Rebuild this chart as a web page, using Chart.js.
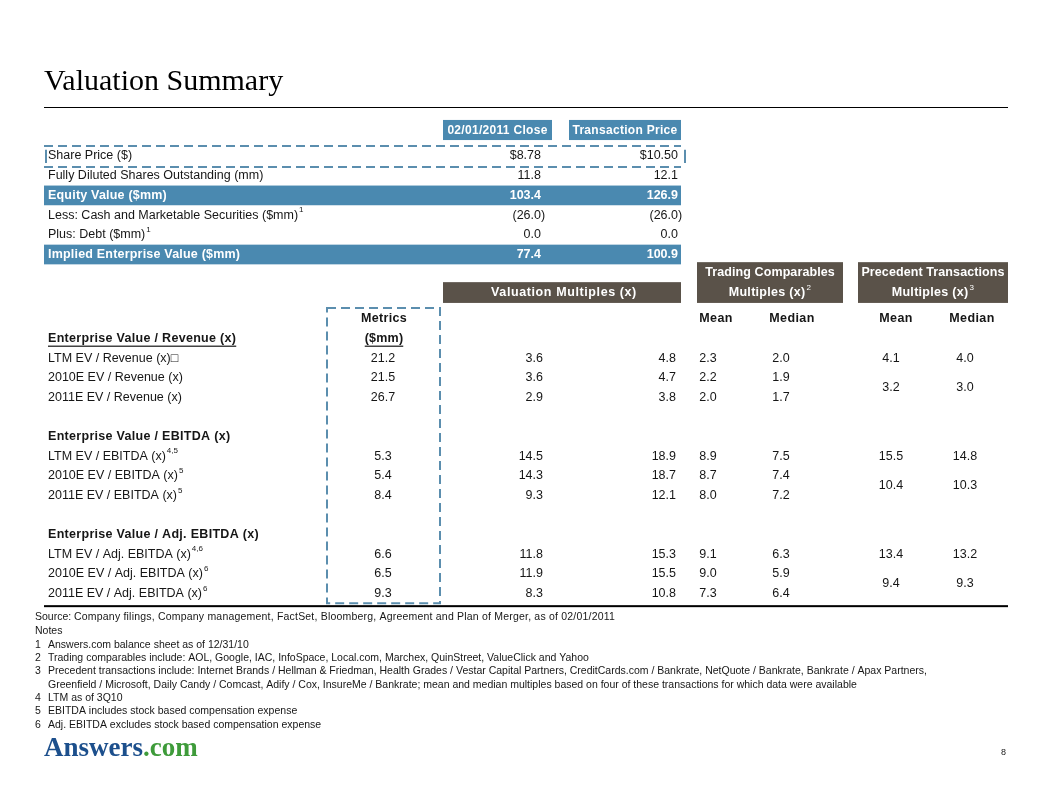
<!DOCTYPE html>
<html>
<head>
<meta charset="utf-8">
<script src="https://cdn.jsdelivr.net/npm/chart.js@4.4.1/dist/chart.umd.min.js"></script>
<style>
  html, body { margin: 0; padding: 0; background: #fff; }
  canvas { display: block; }
</style>
</head>
<body>
<canvas id="summaryChart" width="1056" height="792"></canvas>
<script>
// TOP TABLE
const priceColumns = ["02/01/2011 Close", "Transaction Price"];
const summaryLabels = [
    "Share Price ($)",
    "Fully Diluted Shares Outstanding (mm)",
    "Equity Value ($mm)",
    "Less: Cash and Marketable Securities ($mm)",
    "Plus: Debt ($mm)",
    "Implied Enterprise Value ($mm)"
];
const summaryNotes = ["", "", "", "1", "1", ""];
const closeValues = [8.78, 11.8, 103.4, -26.0, 0.0, 77.4];
const dealValues = [10.50, 12.1, 126.9, -26.0, 0.0, 100.9];

// MULTIPLES TABLE
const groupHeaders = ["Valuation Multiples (x)", "Trading Comparables", "Precedent Transactions"];
const statLabels = ["Mean", "Median"];
const sectionTitles = [
    "Enterprise Value / Revenue (x)",
    "Enterprise Value / EBITDA (x)",
    "Enterprise Value / Adj. EBITDA (x)"
];
const metricLabels = [
    "LTM EV / Revenue (x)\u25A1",
    "2010E EV / Revenue (x)",
    "2011E EV / Revenue (x)",
    "LTM EV / EBITDA (x)",
    "2010E EV / EBITDA (x)",
    "2011E EV / EBITDA (x)",
    "LTM EV / Adj. EBITDA (x)",
    "2010E EV / Adj. EBITDA (x)",
    "2011E EV / Adj. EBITDA (x)"
];
const metricNotes = ["", "", "", "4,5", "5", "5", "4,6", "6", "6"];
const metricValues = [21.2, 21.5, 26.7, 5.3, 5.4, 8.4, 6.6, 6.5, 9.3];
const multCloseValues = [3.6, 3.6, 2.9, 14.5, 14.3, 9.3, 11.8, 11.9, 8.3];
const multDealValues = [4.8, 4.7, 3.8, 18.9, 18.7, 12.1, 15.3, 15.5, 10.8];
const tradMeanValues = [2.3, 2.2, 2.0, 8.9, 8.7, 8.0, 9.1, 9.0, 7.3];
const tradMedianValues = [2.0, 1.9, 1.7, 7.5, 7.4, 7.2, 6.3, 5.9, 6.4];
// precedent: LTM row, then one value for 2010E/2011E together
const precMeanValues = [4.1, 3.2, 15.5, 10.4, 13.4, 9.4];
const precMedianValues = [4.0, 3.0, 14.8, 10.3, 13.2, 9.3];

// FOOTNOTES
const sourceText = "Company filings, Company management, FactSet, Bloomberg, Agreement and Plan of Merger, as of 02/01/2011";
const noteNumbers = ["1", "2", "3", "", "4", "5", "6"];
const noteTexts = [
    "Answers.com balance sheet as of 12/31/10",
    "Trading comparables include: AOL, Google, IAC, InfoSpace, Local.com, Marchex, QuinStreet, ValueClick and Yahoo",
    "Precedent transactions include: Internet Brands / Hellman & Friedman, Health Grades / Vestar Capital Partners, CreditCards.com / Bankrate, NetQuote / Bankrate, Bankrate / Apax Partners,",
    "Greenfield / Microsoft, Daily Candy / Comcast, Adify / Cox, InsureMe / Bankrate; mean and median multiples based on four of these transactions for which data were available",
    "LTM as of 3Q10",
    "EBITDA includes stock based compensation expense",
    "Adj. EBITDA excludes stock based compensation expense"
];

const BLUE = "#4a89b0";
const BROWN = "#5a5249";
const DASH = "#5b8eae";
const INK = "#161616";
const SANS = "'Liberation Sans', Arial, sans-serif";
const SERIF = "'Liberation Serif', 'Times New Roman', serif";
const HEAD = "bold 12.5px " + SANS;

// column anchors (x pixels)
const COL = {
    label: 48, close: 541, deal: 678,
    metric: 383, multClose: 543, multDeal: 676,
    tradMean: 708, tradMedian: 781, precMean: 891, precMedian: 965
};

function lowerRow(i) { return 2 + 5 * Math.floor(i / 3) + i % 3; }
function precRow(k) { const s = Math.floor(k / 2); return k % 2 === 0 ? 2 + 5 * s : 3.5 + 5 * s; }

function fmtTop(v, i) {
    if (i === 0) return "$" + v.toFixed(2);
    return v < 0 ? "(" + Math.abs(v).toFixed(1) + ")" : v.toFixed(1);
}
function fmtOne(v) { return v.toFixed(1); }

function cellSet(name, values, x, axis, rowFn, fmt, align, table) {
    return {
        label: name,
        data: values.map((v, i) => ({ x: x, y: rowFn(i) })),
        yAxisID: axis,
        pointRadius: 0,
        pointHoverRadius: 0,
        showLine: false,
        cellValues: values,
        cellFmt: fmt,
        cellAlign: align,
        cellTable: table
    };
}

function text(ctx, s, x, y, o) {
    o = o || {};
    const font = o.font || ("12.5px " + SANS);
    ctx.letterSpacing = o.spacing || "0px";
    ctx.font = font;
    ctx.fillStyle = o.color || INK;
    ctx.textBaseline = o.baseline || "middle";
    let w = ctx.measureText(s).width;
    let supW = 0;
    const supFont = o.supFont || ("8px " + SANS);
    if (o.sup) {
        ctx.font = supFont;
        supW = ctx.measureText(o.sup).width + 1;
        ctx.font = font;
    }
    let left = x;
    if (o.align === "center") left = x - (w + supW) / 2;
    else if (o.align === "right") left = x - w - supW;
    ctx.textAlign = "left";
    ctx.fillText(s, left, y);
    if (o.sup) {
        ctx.font = supFont;
        ctx.fillText(o.sup, left + w + 1, y - 5);
    }
    if (o.underline) {
        ctx.fillRect(left, y + 7, w, 1.2);
    }
    ctx.letterSpacing = "0px";
    return w;
}

const tablePlugin = {
    id: "tablePlugin",
    afterDraw(chart) {
        const ctx = chart.ctx;
        const sx = chart.scales.x;
        const yt = chart.scales.yTop;
        const yl = chart.scales.yLow;
        const px = v => sx.getPixelForValue(v);
        const pt = v => yt.getPixelForValue(v);
        const pl = v => yl.getPixelForValue(v);
        ctx.save();

        // title
        text(ctx, "Valuation Summary", 44, 90, { font: "30px " + SERIF, color: "#000", baseline: "alphabetic" });
        ctx.fillStyle = "#000";
        ctx.fillRect(44, 107, 964, 1);

        // top header boxes
        const boxes = [[443, 552], [569, 681]];
        boxes.forEach((b, i) => {
            ctx.fillStyle = BLUE;
            ctx.fillRect(px(b[0]), pt(-1.83), px(b[1]) - px(b[0]), pt(-0.81) - pt(-1.83));
            text(ctx, priceColumns[i], (px(b[0]) + px(b[1])) / 2, pt(-1.3),
                { font: "bold 12px " + SANS, color: "#fff", align: "center", spacing: "0.3px" });
        });

        // bands for totals
        [2, 5].forEach(r => {
            ctx.fillStyle = BLUE;
            ctx.fillRect(px(44), pt(r - 0.5), px(681) - px(44), pt(r + 0.5) - pt(r - 0.5));
        });

        // dashed highlight around share price row
        ctx.strokeStyle = DASH;
        ctx.lineWidth = 2;
        ctx.setLineDash([9, 5]);
        [-0.51, 0.56].forEach(r => {
            ctx.beginPath();
            ctx.moveTo(px(44), pt(r));
            ctx.lineTo(px(681), pt(r));
            ctx.stroke();
        });
        ctx.setLineDash([]);
        [46, 685].forEach(xv => {
            ctx.beginPath();
            ctx.moveTo(px(xv), pt(-0.32));
            ctx.lineTo(px(xv), pt(0.36));
            ctx.stroke();
        });

        // top labels
        summaryLabels.forEach((s, i) => {
            const bold = i === 2 || i === 5;
            text(ctx, s, px(COL.label), pt(i), {
                font: (bold ? "bold 12.5px " : "12.5px ") + SANS,
                color: bold ? "#fff" : INK,
                sup: summaryNotes[i] || null,
                spacing: bold ? "0.2px" : "0px"
            });
        });

        // lower header boxes
        ctx.fillStyle = BROWN;
        ctx.fillRect(px(443), pl(-1.88), px(681) - px(443), pl(-0.82) - pl(-1.88));
        text(ctx, groupHeaders[0], px(564), pl(-1.33), { font: HEAD, color: "#fff", align: "center", spacing: "0.6px" });
        [[697, 843, 1, "2"], [858, 1008, 2, "3"]].forEach(b => {
            ctx.fillStyle = BROWN;
            ctx.fillRect(px(b[0]), pl(-2.9), px(b[1]) - px(b[0]), pl(-0.82) - pl(-2.9));
            const cx = (px(b[0]) + px(b[1])) / 2;
            text(ctx, groupHeaders[b[2]], cx, pl(-2.35), { font: HEAD, color: "#fff", align: "center", spacing: "0.1px" });
            text(ctx, "Multiples (x)", cx, pl(-1.33), { font: HEAD, color: "#fff", align: "center", sup: b[3], supFont: "8px " + SANS, spacing: "0.3px" });
        });

        // metrics dashed box
        ctx.strokeStyle = DASH;
        ctx.lineWidth = 2;
        ctx.setLineDash([9, 5]);
        ctx.strokeRect(px(327), pl(-0.56), px(440) - px(327), pl(14.5) - pl(-0.56));
        ctx.setLineDash([]);

        text(ctx, "Metrics", px(384), pl(0), { font: HEAD, align: "center", spacing: "0.3px" });
        text(ctx, "($mm)", px(384), pl(1), { font: HEAD, align: "center", underline: true, spacing: "0.2px" });
        [[716, 0], [792, 1], [896, 0], [972, 1]].forEach(h => {
            text(ctx, statLabels[h[1]], px(h[0]), pl(0), { font: HEAD, align: "center", spacing: "0.4px" });
        });

        // section titles and metric labels
        sectionTitles.forEach((s, i) => {
            text(ctx, s, px(COL.label), pl(1 + 5 * i), { font: HEAD, underline: i === 0, spacing: "0.3px" });
        });
        metricLabels.forEach((s, i) => {
            text(ctx, s, px(COL.label), pl(lowerRow(i)), { sup: metricNotes[i] || null });
        });

        // value cells, positioned by the library's scales
        chart.data.datasets.forEach((ds, di) => {
            const meta = chart.getDatasetMeta(di);
            meta.data.forEach((el, j) => {
                const v = ds.cellValues[j];
                const s = ds.cellFmt(v, j);
                if (ds.cellTable === "top") {
                    const bold = j === 2 || j === 5;
                    const o = { font: (bold ? "bold 12.5px " : "12.5px ") + SANS, color: bold ? "#fff" : INK, align: "right" };
                    if (v < 0) {
                        text(ctx, s.slice(0, -1), el.x, el.y, o);
                        text(ctx, ")", el.x, el.y, Object.assign({}, o, { align: "left" }));
                    } else {
                        text(ctx, s, el.x, el.y, o);
                    }
                } else {
                    text(ctx, s, el.x, el.y, { align: ds.cellAlign });
                }
            });
        });

        // bottom rule
        ctx.fillStyle = "#000";
        ctx.fillRect(44, pl(14.6), 964, 2);

        // footnotes
        const fnFont = "10.5px " + SANS;
        text(ctx, "Source:", 35, 617, { font: fnFont });
        text(ctx, sourceText, 74, 617, { font: fnFont, spacing: "0.2px" });
        text(ctx, "Notes", 35, 631, { font: fnFont });
        noteTexts.forEach((s, i) => {
            const y = 645 + i * 13.3;
            if (noteNumbers[i]) text(ctx, noteNumbers[i], 35, y, { font: fnFont });
            text(ctx, s, 48, y, { font: fnFont });
        });

        // logo and page number
        const w = text(ctx, "Answers", 44, 756, { font: "bold 27px " + SERIF, color: "#1c4f8c", baseline: "alphabetic" });
        text(ctx, ".com", 44 + w, 756, { font: "bold 27px " + SERIF, color: "#3e9b3a", baseline: "alphabetic" });
        text(ctx, "8", 1006, 753, { font: "9px " + SANS, align: "right" });

        ctx.restore();
    }
};

const ROW_TOP = 19.7;
const ROW_LOW = 19.6;

new Chart(document.getElementById("summaryChart"), {
    type: "scatter",
    data: {
        datasets: [
            cellSet("close", closeValues, COL.close, "yTop", i => i, fmtTop, "right", "top"),
            cellSet("deal", dealValues, COL.deal, "yTop", i => i, fmtTop, "right", "top"),
            cellSet("metric", metricValues, COL.metric, "yLow", lowerRow, fmtOne, "center", "low"),
            cellSet("multClose", multCloseValues, COL.multClose, "yLow", lowerRow, fmtOne, "right", "low"),
            cellSet("multDeal", multDealValues, COL.multDeal, "yLow", lowerRow, fmtOne, "right", "low"),
            cellSet("tradMean", tradMeanValues, COL.tradMean, "yLow", lowerRow, fmtOne, "center", "low"),
            cellSet("tradMedian", tradMedianValues, COL.tradMedian, "yLow", lowerRow, fmtOne, "center", "low"),
            cellSet("precMean", precMeanValues, COL.precMean, "yLow", precRow, fmtOne, "center", "low"),
            cellSet("precMedian", precMedianValues, COL.precMedian, "yLow", precRow, fmtOne, "center", "low")
        ]
    },
    options: {
        responsive: false,
        animation: false,
        layout: { padding: 0 },
        plugins: { legend: { display: false }, tooltip: { enabled: false } },
        events: [],
        scales: {
            x: { type: "linear", display: false, min: 0, max: 1056 },
            yTop: { type: "linear", display: false, reverse: true, min: -156 / ROW_TOP, max: (792 - 156) / ROW_TOP },
            yLow: { type: "linear", display: false, reverse: true, min: -319 / ROW_LOW, max: (792 - 319) / ROW_LOW }
        }
    },
    plugins: [tablePlugin]
});
</script>
</body>
</html>
